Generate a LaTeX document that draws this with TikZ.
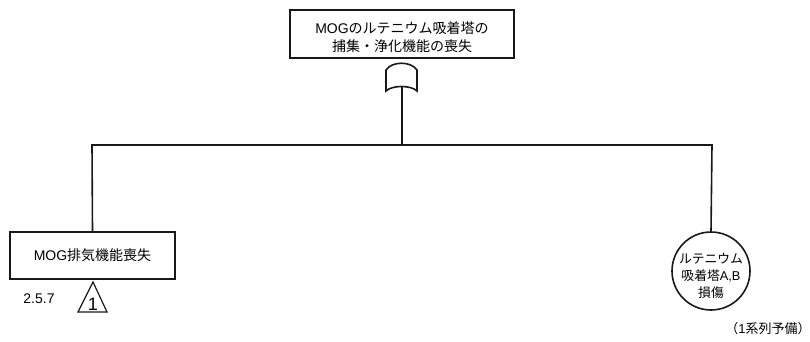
\documentclass[tikz,border=0pt]{standalone}
\usepackage{fontspec}
\setmainfont{Liberation Sans}
\newfontfamily\jp{Noto Sans CJK JP}
\begin{document}
\begin{tikzpicture}[x=1pt,y=-1pt,
  line/.style={line width=1.6pt,draw=black!90},
  evbox/.style={line, rectangle, align=center, font=\fontsize{14}{18}\selectfont, inner sep=0pt},
  evcirc/.style={line, circle, align=center, font=\fontsize{12.5}{17}\selectfont, inner sep=0pt, minimum size=78pt},
  lbl/.style={font=\fontsize{14}{15}\selectfont, inner sep=0pt}]
\useasboundingbox (0,0) rectangle (810,342);
\node[evbox, minimum width=224pt, minimum height=48pt] (top) at (402,34) {};
\node[font=\fontsize{14}{18}\selectfont, align=center, inner sep=0pt] (toptext) at (402,37) {MOG{\jp のルテニウム吸着塔の}\\{\jp 捕集・浄化機能の喪失}};
% OR gate
\draw[line] (386,91) -- (386,70) .. controls (392,61) and (411,61) .. (417,70) -- (417,91) .. controls (411,85) and (392,85) .. (386,91) -- cycle;
\coordinate (gb) at (402,87);
\coordinate (bar) at (402,145);
\coordinate (lb) at (92,145);
\coordinate (rb) at (712,145);
\node[evbox, minimum width=165pt, minimum height=47pt] (mog) at (92.5,255.5) {MOG{\jp 排気機能喪失}};
\node[evcirc] (ru) at (711,271) {};
\node[font=\fontsize{12.8}{17}\selectfont, align=center, inner sep=0pt] (rutext) at (711,276) {{\jp ルテニウム}\\{\jp 吸着塔}A,B\\{\jp 損傷}};
\draw[line] (gb) -- (bar);
\draw[line] (mog.north) -- (lb) -- (rb) -- (ru.north);
% transfer triangle
\node[lbl] (num) at (39,299) {2.5.7};
\draw[line, line width=1.2pt] (93,282) -- (107,312) -- (78,312) -- cycle;
\node[lbl, font=\fontsize{18}{18}\selectfont] (tri) at (93,304) {1};
\node[lbl, font=\fontsize{13}{15}\selectfont] (note) at (768,329) {{\jp （}1{\jp 系列予備）}};
\end{tikzpicture}
\end{document}
